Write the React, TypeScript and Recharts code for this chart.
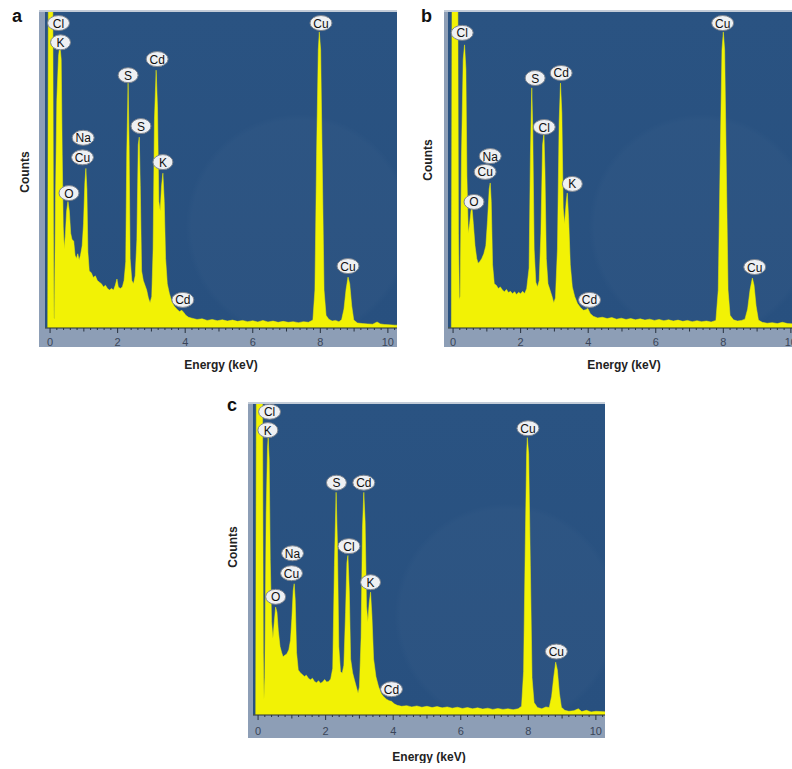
import React from 'react';
import { AreaChart, Area, XAxis, YAxis, ReferenceDot } from 'recharts';

type Pt = [number, number];
type Tag = [string, number, number];

// EDS spectra, [energy keV, counts in % of plot height]
const SPECTRUM_A: Pt[] = [
  [-0.15, 0], [-0.07, 0], [-0.05, 110], [0.08, 110], [0.1, 30], [0.115, 3], [0.13, 3], [0.16, 40],
  [0.2, 72], [0.25, 86], [0.29, 89.6], [0.33, 85], [0.36, 55], [0.39, 32], [0.42, 25], [0.45, 29],
  [0.49, 37], [0.53, 40], [0.57, 37], [0.61, 30], [0.65, 28], [0.7, 27.5], [0.74, 23], [0.78, 22],
  [0.82, 23.5], [0.86, 21.5], [0.9, 23], [0.95, 26], [0.99, 33], [1.03, 46], [1.06, 50.5], [1.09, 44],
  [1.12, 24], [1.16, 18], [1.22, 17.5], [1.28, 16], [1.34, 16.5], [1.4, 15], [1.46, 14.5], [1.52, 14],
  [1.58, 13], [1.64, 13.5], [1.7, 12.5], [1.76, 12], [1.82, 12.5], [1.88, 12], [1.93, 13.5], [1.98, 15.5],
  [2.02, 13], [2.08, 12.5], [2.14, 13], [2.19, 15], [2.24, 21], [2.27, 55], [2.31, 77.5], [2.34, 58],
  [2.37, 22], [2.42, 15], [2.47, 14], [2.52, 16.5], [2.57, 28], [2.61, 58], [2.64, 60.4], [2.67, 45],
  [2.71, 18], [2.76, 15], [2.81, 13.5], [2.86, 12], [2.91, 9.5], [2.96, 8], [3.01, 10], [3.05, 25],
  [3.09, 66], [3.14, 81.6], [3.18, 70], [3.22, 40], [3.26, 37], [3.3, 45], [3.34, 49], [3.38, 40],
  [3.42, 22], [3.47, 14], [3.53, 11], [3.6, 8.5], [3.67, 7], [3.75, 6], [3.83, 5.2], [3.9, 5.6],
  [3.95, 5], [4.02, 4], [4.1, 3.4], [4.2, 3.1], [4.35, 2.7], [4.5, 2.9], [4.65, 2.4], [4.8, 2.7],
  [4.95, 2.3], [5.1, 2.6], [5.25, 2.2], [5.4, 2.5], [5.55, 2.1], [5.7, 2.4], [5.85, 2.0], [6.0, 2.3],
  [6.15, 1.9], [6.3, 2.4], [6.45, 1.9], [6.6, 2.2], [6.75, 1.8], [6.9, 2.1], [7.05, 1.8], [7.2, 2.0],
  [7.35, 1.7], [7.5, 2.0], [7.65, 1.8], [7.78, 2.5], [7.84, 12], [7.89, 55], [7.94, 88], [7.97, 93.7],
  [8.01, 88], [8.06, 50], [8.11, 12], [8.17, 4], [8.25, 2.8], [8.35, 2.2], [8.45, 2.4], [8.55, 2.0],
  [8.63, 2.6], [8.7, 6], [8.76, 12], [8.82, 16.1], [8.87, 14], [8.93, 7], [8.99, 2.5], [9.1, 1.6],
  [9.25, 1.4], [9.4, 1.3], [9.55, 1.2], [9.68, 1.9], [9.78, 1.3], [9.9, 1.1], [10.05, 1.0], [10.2, 0.9],
  [10.3, 0.9],
];

const SPECTRUM_B: Pt[] = [
  [-0.15, 0], [-0.05, 0], [-0.03, 110], [0.14, 110], [0.16, 30], [0.185, 9], [0.21, 10], [0.25, 55],
  [0.3, 85], [0.34, 89.6], [0.38, 82], [0.41, 48], [0.45, 30], [0.49, 33], [0.53, 37], [0.56, 38],
  [0.6, 33], [0.65, 26], [0.7, 22], [0.74, 20.5], [0.79, 21], [0.85, 22], [0.91, 23.5], [0.97, 26],
  [1.02, 34], [1.07, 44], [1.1, 45.9], [1.13, 40], [1.17, 20], [1.22, 14], [1.28, 13.5], [1.34, 12.5],
  [1.4, 13], [1.46, 12], [1.52, 11.5], [1.58, 12.2], [1.64, 11.2], [1.7, 11.6], [1.76, 10.8], [1.82, 11.5],
  [1.88, 10.6], [1.94, 11.3], [2.0, 10.8], [2.06, 11.6], [2.12, 10.9], [2.18, 12.5], [2.25, 19], [2.29, 55],
  [2.33, 76], [2.36, 62], [2.4, 25], [2.45, 14.5], [2.5, 13], [2.55, 15], [2.6, 30], [2.65, 58],
  [2.69, 61.6], [2.72, 50], [2.76, 22], [2.81, 14], [2.87, 12], [2.93, 10], [2.98, 8], [3.03, 9.5],
  [3.09, 25], [3.14, 65], [3.18, 77.5], [3.22, 68], [3.26, 38], [3.3, 33], [3.35, 40], [3.38, 42.7],
  [3.42, 35], [3.47, 20], [3.53, 13], [3.6, 10], [3.68, 7.8], [3.77, 6.5], [3.86, 5.6], [3.93, 5.8],
  [3.99, 6.2], [4.06, 4.6], [4.15, 3.7], [4.28, 3.2], [4.42, 3.4], [4.56, 3.0], [4.7, 3.3], [4.84, 2.8],
  [4.98, 3.1], [5.12, 2.7], [5.26, 3.0], [5.4, 2.6], [5.54, 2.9], [5.68, 2.5], [5.82, 2.8], [5.96, 2.4],
  [6.1, 2.7], [6.24, 2.3], [6.38, 2.6], [6.52, 2.2], [6.66, 2.5], [6.8, 2.1], [6.94, 2.4], [7.08, 2.0],
  [7.22, 2.3], [7.36, 2.0], [7.5, 2.2], [7.64, 1.9], [7.78, 2.4], [7.85, 12], [7.91, 55], [7.96, 88],
  [8.0, 93.7], [8.04, 88], [8.09, 50], [8.14, 12], [8.2, 4], [8.3, 2.6], [8.42, 2.2], [8.54, 2.4],
  [8.64, 2.8], [8.72, 6], [8.79, 12], [8.86, 15.8], [8.91, 13.5], [8.97, 7], [9.04, 2.5], [9.15, 1.8],
  [9.3, 1.5], [9.45, 1.7], [9.6, 1.4], [9.75, 1.8], [9.9, 1.4], [10.05, 1.3], [10.3, 1.2],
];

const SPECTRUM_C: Pt[] = [
  [-0.15, 0], [-0.07, 0], [-0.05, 110], [0.13, 110], [0.155, 20], [0.175, 5], [0.2, 12], [0.24, 65],
  [0.28, 86], [0.3, 89.2], [0.33, 82], [0.36, 50], [0.4, 30], [0.44, 24.6], [0.48, 30], [0.52, 34.7],
  [0.56, 33], [0.6, 27], [0.65, 22], [0.7, 20], [0.74, 18.7], [0.79, 19.2], [0.85, 19.6], [0.91, 21],
  [0.96, 24], [1.0, 31], [1.04, 40], [1.07, 42.2], [1.1, 37], [1.14, 20], [1.19, 14.5], [1.25, 13.6],
  [1.31, 13], [1.37, 12.4], [1.43, 12.8], [1.49, 11.8], [1.55, 11.3], [1.61, 11.8], [1.67, 10.8], [1.73, 10.4],
  [1.79, 11], [1.85, 10.2], [1.91, 10.6], [1.97, 11.4], [2.03, 10.6], [2.09, 10.8], [2.15, 11.6], [2.21, 15],
  [2.26, 48], [2.31, 71.6], [2.35, 55], [2.39, 22], [2.44, 14], [2.49, 13.4], [2.54, 16], [2.59, 33],
  [2.63, 49], [2.66, 51.3], [2.7, 40], [2.74, 18], [2.8, 13.5], [2.86, 11], [2.91, 9], [2.96, 7],
  [3.0, 9], [3.05, 25], [3.09, 60], [3.13, 71.6], [3.17, 62], [3.21, 35], [3.25, 30], [3.29, 36],
  [3.33, 39.5], [3.37, 32], [3.42, 18], [3.49, 12.3], [3.57, 9], [3.65, 6.8], [3.72, 5.9], [3.8, 5.1],
  [3.88, 4.6], [3.95, 4.4], [4.03, 3.6], [4.12, 3.1], [4.25, 2.8], [4.4, 3.0], [4.55, 2.6], [4.7, 2.9],
  [4.85, 2.5], [5.0, 2.8], [5.15, 2.4], [5.3, 2.7], [5.45, 2.3], [5.6, 2.6], [5.75, 2.2], [5.9, 2.5],
  [6.05, 2.1], [6.2, 2.4], [6.35, 2.0], [6.5, 2.3], [6.65, 1.9], [6.8, 2.2], [6.95, 1.8], [7.1, 2.1],
  [7.25, 1.8], [7.4, 2.0], [7.55, 1.7], [7.7, 2.0], [7.8, 2.8], [7.86, 14], [7.91, 55], [7.95, 84],
  [7.97, 89.2], [8.01, 84], [8.06, 48], [8.11, 12], [8.17, 4], [8.27, 2.4], [8.4, 2.0], [8.52, 2.6],
  [8.62, 2.4], [8.69, 6], [8.75, 12], [8.81, 17], [8.86, 14.5], [8.92, 7], [8.98, 2.5], [9.08, 1.5],
  [9.2, 1.2], [9.35, 1.4], [9.48, 2.0], [9.58, 1.1], [9.72, 1.5], [9.86, 1.0], [10.0, 1.2], [10.3, 1.0],
];

// peak labels: [element, energy, height]
const LABELS_A: Tag[] = [
  ['Cl', 0.25, 96.5], ['K', 0.31, 90.4], ['Na', 0.98, 60.2], ['Cu', 0.96, 54], ['O', 0.56, 42.7],
  ['S', 2.31, 80], ['Cd', 3.17, 85.1], ['S', 2.69, 63.9], ['K', 3.34, 52.5], ['Cd', 3.93, 8.9],
  ['Cu', 8.02, 96.5], ['Cu', 8.82, 19.6],
];

const LABELS_B: Tag[] = [
  ['Cl', 0.27, 93.4], ['Na', 1.1, 54.4], ['Cu', 0.95, 49.4], ['O', 0.62, 39.9],
  ['S', 2.43, 79.1], ['Cd', 3.2, 80.7], ['Cl', 2.7, 63.6], ['K', 3.53, 45.6], ['Cd', 4.04, 8.9],
  ['Cu', 7.98, 96.5], ['Cu', 8.93, 19.3],
];

const LABELS_C: Tag[] = [
  ['Cl', 0.34, 97.5], ['K', 0.29, 91.6], ['Na', 1.02, 52], ['Cu', 0.99, 45.6], ['O', 0.52, 38],
  ['S', 2.32, 74.7], ['Cd', 3.13, 74.7], ['Cl', 2.69, 54.3], ['K', 3.33, 42.7], ['Cd', 3.95, 8.3],
  ['Cu', 7.99, 92.2], ['Cu', 8.83, 20.4],
];

const X_DOMAIN: [number, number] = [-0.15, 10.27];
const TICK_STEP = 0.2;
const TICKS = Array.from({ length: 52 }, (_, i) => Math.round(i * TICK_STEP * 10) / 10);

const FONT = '"Liberation Sans", Arial, sans-serif';
const YELLOW = '#f2f205';
const BLUE = '#28507f';
const BAND = '#8d9eb6';

function EnergyTick(props: any) {
  const { x, y, payload, dy } = props;
  const v = payload.value;
  const even = Math.abs(v / 2 - Math.round(v / 2)) < 1e-6;
  const whole = Math.abs(v - Math.round(v)) < 1e-6;
  const len = even ? 5 : whole ? 3.5 : 2;
  return (
    <g>
      <line x1={x} y1={y} x2={x} y2={y + len} stroke="#27313e" strokeWidth={1} />
      {even && (
        <text x={x} y={y + dy} textAnchor="middle" fontSize={11} fill="#3a4558" fontFamily={FONT}>
          {v}
        </text>
      )}
    </g>
  );
}

function CountsTitle(props: any) {
  const { viewBox, cy } = props;
  const x = viewBox.x + 10;
  return (
    <text x={x} y={cy} transform={`rotate(-90 ${x} ${cy})`} textAnchor="middle"
      dominantBaseline="central" fontSize={12} fontWeight="bold" fill="#222" fontFamily={FONT}>
      Counts
    </text>
  );
}

function EnergyTitle(props: any) {
  const { viewBox, dy } = props;
  return (
    <text x={viewBox.x + viewBox.width / 2} y={viewBox.y + dy} textAnchor="middle"
      dominantBaseline="central" fontSize={12} fontWeight="bold" fill="#222" fontFamily={FONT}>
      Energy (keV)
    </text>
  );
}

function PeakTag({ cx, cy, name }: { cx: number; cy: number; name: string }) {
  const rx = name.length > 1 ? 11 : 10;
  return (
    <g>
      <ellipse cx={cx} cy={cy} rx={rx} ry={7.5} fill="#eef0f3" stroke="#7d848e" strokeWidth={1} />
      <text x={cx} y={cy + 0.5} textAnchor="middle" dominantBaseline="central" fontSize={12}
        fill="#111" fontFamily={FONT}>
        {name}
      </text>
    </g>
  );
}

interface PanelProps {
  letter: string;
  letterX: number;
  letterY: number;
  spectrum: Pt[];
  labels: Tag[];
  frameLeft: number;
  frameTop: number;
  plotLeft: number;
  plotTop: number;
  plotH: number;
  bandH: number;
  tickDy: number;
  countsY: number;
  energyDy: number;
}

const PLOT_W = 352;
const AXIS_W = 30;
const XAXIS_H = 48;

function Panel(p: PanelProps) {
  const data = p.spectrum.map(([e, v]) => ({ e, v }));
  return (
    <>
      <div style={{
        position: 'absolute', left: p.frameLeft, top: p.frameTop,
        width: p.plotLeft + PLOT_W - p.frameLeft, height: p.plotTop + p.plotH + p.bandH - p.frameTop,
        background: BAND,
      }} />
      <div style={{
        position: 'absolute', left: p.frameLeft, top: p.frameTop,
        width: p.plotLeft + PLOT_W - p.frameLeft, height: p.plotTop - p.frameTop,
        background: '#c3ccd8',
      }} />
      <div style={{
        position: 'absolute', left: p.plotLeft, top: p.plotTop, width: PLOT_W, height: p.plotH,
        background: `radial-gradient(circle at 72% 68%, rgba(255,255,255,0.018) 0, rgba(255,255,255,0.018) 32%, rgba(255,255,255,0) 34%), linear-gradient(180deg, #2a5382 0%, ${BLUE} 100%)`,
      }} />
      <div style={{
        position: 'absolute', left: p.letterX, top: p.letterY, fontFamily: FONT,
        fontWeight: 'bold', fontSize: 18, lineHeight: '18px', color: '#111',
      }}>
        {p.letter}
      </div>
      <div style={{ position: 'absolute', left: p.plotLeft - AXIS_W, top: p.plotTop }}>
        <AreaChart width={PLOT_W + AXIS_W} height={p.plotH + XAXIS_H} data={data}
          margin={{ top: 0, right: 0, bottom: 0, left: 0 }}>
          <XAxis dataKey="e" type="number" domain={X_DOMAIN} allowDataOverflow ticks={TICKS}
            interval={0} tickSize={0} tickMargin={0} tickLine={false}
            axisLine={{ stroke: '#27313e', strokeWidth: 1.2 }}
            tick={<EnergyTick dy={p.tickDy} />} height={XAXIS_H}
            label={<EnergyTitle dy={p.energyDy} />} />
          <YAxis type="number" domain={[0, 100]} allowDataOverflow width={AXIS_W}
            tick={false} tickLine={false} axisLine={false}
            label={<CountsTitle cy={p.countsY} />} />
          <Area dataKey="v" type="linear" stroke={YELLOW} strokeWidth={0.5} fill={YELLOW}
            fillOpacity={1} isAnimationActive={false} dot={false} activeDot={false} />
          {p.labels.map(([name, e, v], i) => (
            <ReferenceDot key={i} x={e} y={v} r={10} ifOverflow="visible"
              shape={(s: any) => <PeakTag cx={s.cx} cy={s.cy} name={name} />} />
          ))}
        </AreaChart>
      </div>
    </>
  );
}

export default function App() {
  return (
    <div style={{
      position: 'absolute', left: 0, top: 0, width: 792, height: 769,
      overflow: 'hidden', background: '#fff',
    }}>
      <Panel letter="a" letterX={12} letterY={7} spectrum={SPECTRUM_A} labels={LABELS_A}
        frameLeft={39} frameTop={10} plotLeft={45} plotTop={12} plotH={316} bandH={19}
        tickDy={18} countsY={160} energyDy={37} />
      <Panel letter="b" letterX={421} letterY={7} spectrum={SPECTRUM_B} labels={LABELS_B}
        frameLeft={444} frameTop={10} plotLeft={448} plotTop={12} plotH={316} bandH={19}
        tickDy={18} countsY={148} energyDy={37} />
      <Panel letter="c" letterX={227} letterY={396} spectrum={SPECTRUM_C} labels={LABELS_C}
        frameLeft={248} frameTop={402} plotLeft={253} plotTop={404} plotH={311} bandH={23}
        tickDy={20} countsY={143} energyDy={42} />
    </div>
  );
}
